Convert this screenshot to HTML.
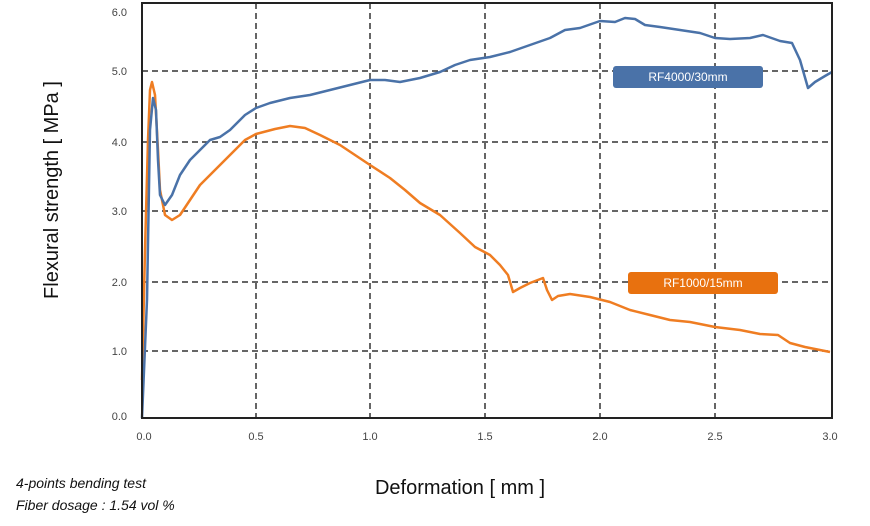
<!DOCTYPE html>
<html><head><meta charset="utf-8"><style>
body{margin:0;background:#fff;width:870px;height:521px;overflow:hidden;font-family:"Liberation Sans",sans-serif}
</style></head><body>
<svg width="870" height="521" viewBox="0 0 870 521" xmlns="http://www.w3.org/2000/svg" font-family="Liberation Sans, sans-serif">
<g stroke="#333" stroke-width="1.5" stroke-dasharray="6,4" fill="none">
<line x1="142" y1="71" x2="832" y2="71"/><line x1="142" y1="142" x2="832" y2="142"/>
<line x1="142" y1="211" x2="832" y2="211"/><line x1="142" y1="282" x2="832" y2="282"/>
<line x1="142" y1="351" x2="832" y2="351"/>
<line x1="256" y1="3" x2="256" y2="418"/><line x1="370" y1="3" x2="370" y2="418"/>
<line x1="485" y1="3" x2="485" y2="418"/><line x1="600" y1="3" x2="600" y2="418"/>
<line x1="715" y1="3" x2="715" y2="418"/>
</g>
<polyline fill="none" stroke="#ef7d22" stroke-width="2.5" stroke-linejoin="round" points="142,380 145,250 148,140 150,90 152,82 155,95 158,150 160,190 165,215 172,220 180,215 190,200 200,185 215,170 230,155 245,140 256,134 275,129 290,126 305,128 320,135 340,145 355,155 370,165 390,178 405,190 420,203 440,215 460,233 475,247 490,255 500,265 508,275 513,292 520,288 530,283 543,278 547,290 552,300 558,296 570,294 590,297 610,302 630,310 650,315 670,320 690,322 715,327 740,330 760,334 778,335 790,343 805,347 820,350 830,352"/>
<polyline fill="none" stroke="#4a72a8" stroke-width="2.5" stroke-linejoin="round" points="142,418 147,300 150,130 153,98 156,110 158,160 160,195 165,205 172,195 180,175 190,160 200,150 210,140 220,137 230,130 245,115 256,108 270,103 290,98 310,95 330,90 350,85 370,80 385,80 400,82 420,78 440,72 455,65 470,60 490,57 510,52 530,45 550,38 565,30 580,28 600,21 615,22 625,18 635,19 645,25 660,27 680,30 700,33 715,38 730,39 750,38 763,35 780,41 792,43 800,60 808,88 815,82 825,76 832,72"/>
<rect x="142" y="3" width="690" height="415" fill="none" stroke="#222" stroke-width="2"/>
<g font-size="11" fill="#444" text-anchor="end">
<text x="127" y="16">6.0</text><text x="127" y="75">5.0</text><text x="127" y="146">4.0</text>
<text x="127" y="215">3.0</text><text x="127" y="286">2.0</text><text x="127" y="355">1.0</text>
<text x="127" y="420">0.0</text></g>
<g font-size="11" fill="#444" text-anchor="middle">
<text x="144" y="440">0.0</text><text x="256" y="440">0.5</text><text x="370" y="440">1.0</text>
<text x="485" y="440">1.5</text><text x="600" y="440">2.0</text><text x="715" y="440">2.5</text><text x="830" y="440">3.0</text></g>
<rect x="613" y="66" width="150" height="22" rx="3" fill="#4a72a8"/>
<text x="688" y="81" font-size="12" fill="#fff" text-anchor="middle">RF4000/30mm</text>
<rect x="628" y="272" width="150" height="22" rx="3" fill="#e8710f"/>
<text x="703" y="287" font-size="12" fill="#fff" text-anchor="middle">RF1000/15mm</text>
<text transform="translate(58,190) rotate(-90)" font-size="20" fill="#111" text-anchor="middle">Flexural strength [ MPa ]</text>
<text x="460" y="494" font-size="20" fill="#111" text-anchor="middle">Deformation [ mm ]</text>
<text x="16" y="488" font-size="14" font-style="italic" fill="#111">4-points bending test</text>
<text x="16" y="510" font-size="14" font-style="italic" fill="#111">Fiber dosage : 1.54 vol %</text>
</svg>
</body></html>
